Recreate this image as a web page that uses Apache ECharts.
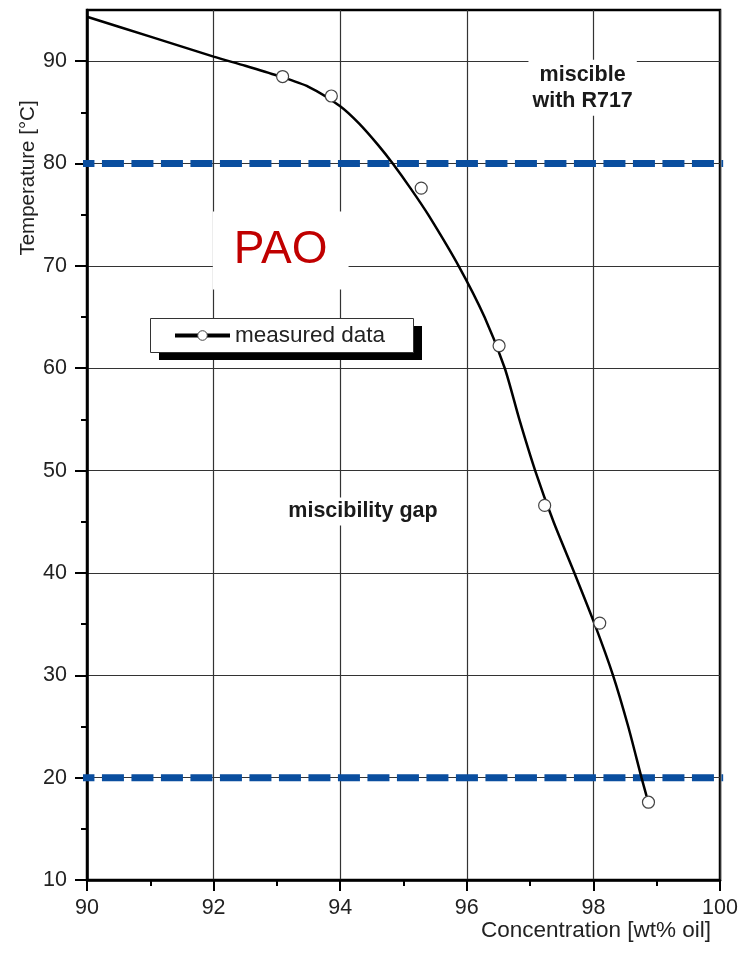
<!DOCTYPE html>
<html><head><meta charset="utf-8">
<script src="https://cdn.jsdelivr.net/npm/echarts@6/dist/echarts.min.js"></script>
<style>html,body{margin:0;padding:0;background:#fff}#c{width:744px;height:955px}</style>
</head><body><div id="c"></div>
<script>
// Measured data points (concentration wt% oil, temperature °C)
const measuredX = [93.09, 93.86, 95.28, 96.51, 97.23, 98.10, 98.87];
const measuredY = [88.5, 86.6, 77.6, 62.2, 46.6, 35.1, 17.6];
// Fitted curve
const curveX = [90, 91, 92, 92.5, 93, 93.5, 94, 94.3, 94.6, 94.83, 95.12, 95.39, 95.87, 96.28, 96.6, 96.83, 97.08, 97.37, 97.7, 98.02, 98.31, 98.55, 98.76, 98.84];
const curveY = [94.34, 92.4, 90.45, 89.55, 88.6, 87.5, 85.6, 83.9, 81.8, 80, 77.5, 75, 70, 65, 60, 55, 50, 45, 40, 35, 30, 25, 20, 18.2];
// Temperature limit lines
const limitTemps = [80, 20];
const limitXRange = [89.77, 100.05];
// Tick labels
const xTicks = [90, 92, 94, 96, 98, 100];
const yTicks = [10, 20, 30, 40, 50, 60, 70, 80, 90];

const FONT = '"Liberation Sans", Arial, sans-serif';
const chart = echarts.init(document.getElementById('c'), null, {renderer: 'canvas'});

const limitSeries = limitTemps.map(t => ({
  type: 'line',
  name: 'limit ' + t,
  data: limitXRange.map(x => [x, t]),
  showSymbol: false,
  symbol: 'none',
  clip: false,
  silent: true,
  z: 2,
  lineStyle: {color: '#0a4e9f', width: 7, type: [22, 7.5]}
}));

const option = {
  backgroundColor: '#fff',
  animation: false,
  grid: {left: 87, right: 24, top: 10, bottom: 75, show: true, borderColor: '#000', borderWidth: 2.5, backgroundColor: 'transparent'},
  xAxis: {
    type: 'value', min: 90, max: 100, interval: 2,
    axisLine: {show: true, onZero: false, lineStyle: {color: '#000', width: 2.5}},
    axisTick: {show: true, length: 11, lineStyle: {color: '#000', width: 2}},
    minorTick: {show: true, splitNumber: 2, length: 6, lineStyle: {color: '#000', width: 2}},
    axisLabel: {fontSize: 21.5, color: '#222', fontFamily: FONT, margin: 17, customValues: xTicks},
    splitLine: {show: true, lineStyle: {color: '#333', width: 1.2}}
  },
  yAxis: {
    type: 'value', min: 10, max: 95, interval: 10,
    axisLine: {show: true, onZero: false, lineStyle: {color: '#000', width: 2.5}},
    axisTick: {show: true, length: 12, lineStyle: {color: '#000', width: 2}, customValues: yTicks},
    minorTick: {show: true, splitNumber: 2, length: 6, lineStyle: {color: '#000', width: 2}},
    axisLabel: {fontSize: 21.5, color: '#222', fontFamily: FONT, margin: 20, customValues: yTicks},
    splitLine: {show: true, lineStyle: {color: '#333', width: 1.2}}
  },
  legend: {
    data: ['measured data'],
    left: 173, top: 324,
    orient: 'horizontal',
    padding: 0,
    itemWidth: 55, itemHeight: 12,
    backgroundColor: 'transparent',
    z: 12,
    textStyle: {fontSize: 22.5, color: '#222', fontFamily: FONT},
    lineStyle: {color: '#000', width: 4, opacity: 1},
    itemStyle: {color: '#fff', borderColor: '#444', borderWidth: 1},
    selectedMode: false
  },
  series: [
    ...limitSeries,
    {
      type: 'line', name: 'fit',
      data: curveX.map((x, i) => [x, curveY[i]]),
      smooth: 0.25,
      showSymbol: false, symbol: 'none', z: 3,
      lineStyle: {color: '#000', width: 2.5}
    },
    {
      type: 'line', name: 'measured data',
      data: measuredX.map((x, i) => [x, measuredY[i]]),
      symbol: 'circle', symbolSize: 12, showSymbol: true, z: 4,
      lineStyle: {opacity: 0, width: 0},
      itemStyle: {color: '#fff', borderColor: '#444', borderWidth: 1.2}
    }
  ]
};
chart.setOption(option);

const p = (x, y) => chart.convertToPixel({gridIndex: 0}, [x, y]);
const pMisc = p(97.83, 87.4);
const pGap = p(94.36, 46.0);
const pPao = p(93.06, 71.5);
const boldText = {fontFamily: FONT, fontWeight: 'bold', fontSize: 21.5, fill: '#1a1a1a', align: 'center', verticalAlign: 'middle', backgroundColor: '#fff'};
chart.setOption({
  graphic: [
    {type: 'rect', z: 10, shape: {x: 159, y: 326, width: 263, height: 34}, style: {fill: '#000'}},
    {type: 'rect', z: 11, shape: {x: 150.5, y: 318.5, width: 263, height: 34}, style: {fill: '#fff', stroke: '#333', lineWidth: 1}},
    {type: 'text', x: pMisc[0], y: pMisc[1], z: 10, style: Object.assign({}, boldText, {text: 'miscible\nwith R717', lineHeight: 26, padding: [2, 4]})},
    {type: 'text', x: pGap[0], y: pGap[1], z: 10, style: Object.assign({}, boldText, {text: 'miscibility gap', padding: [3, 5]})},
    {type: 'text', x: pPao[0], y: pPao[1], z: 10, style: {text: 'PAO', fontFamily: FONT, fontSize: 46, fill: '#c00000', align: 'center', verticalAlign: 'middle', backgroundColor: '#fff', padding: [16, 21]}},
    {type: 'text', x: 28, y: 178, rotation: Math.PI / 2, z: 10, style: {text: 'Temperature [°C]', fontFamily: FONT, fontSize: 20.5, fill: '#222', align: 'center', verticalAlign: 'middle'}},
    {type: 'text', x: 711, y: 931, z: 10, style: {text: 'Concentration [wt% oil]', fontFamily: FONT, fontSize: 22.5, fill: '#222', align: 'right', verticalAlign: 'middle'}}
  ]
});
</script></body></html>
